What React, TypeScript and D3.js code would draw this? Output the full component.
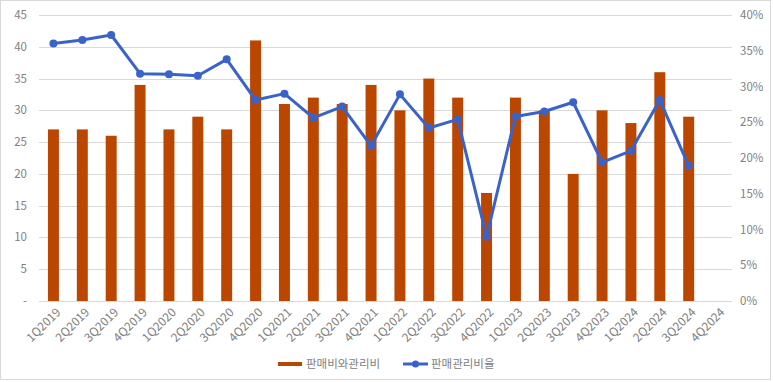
import React from "react";
import * as d3 from "d3";

const categories = ["1Q2019","2Q2019","3Q2019","4Q2019","1Q2020","2Q2020","3Q2020","4Q2020","1Q2021","2Q2021","3Q2021","4Q2021","1Q2022","2Q2022","3Q2022","4Q2022","1Q2023","2Q2023","3Q2023","4Q2023","1Q2024","2Q2024","3Q2024","4Q2024"];
const sgaExpense: (number | null)[] = [27,27,26,34,27,29,27,41,31,32,31,34,30,35,32,17,32,30,20,30,28,36,29,null];
const sgaRatio: (number | null)[] = [36.0,36.5,37.2,31.8,31.7,31.5,33.8,28.1,29.0,25.6,27.2,21.7,28.9,24.2,25.4,9.0,25.8,26.5,27.8,19.4,21.0,28.1,18.9,null];
const leftTicks = [0,5,10,15,20,25,30,35,40,45];
const rightTicks = [0,5,10,15,20,25,30,35,40];
const seriesNames = ["판매비와관리비","판매관리비율"];

const W = 773, H = 382;
const M = { left: 39, right: 732, top: 15, bottom: 301 };
const BAR_COLOR = "#BB4600";
const LINE_COLOR = "#3A63C9";
const TEXT_COLOR = "#808080";
const FONT = "'Noto Sans CJK KR', 'Noto Sans', sans-serif";

export default function App() {
  const x = d3.scaleBand().domain(categories).range([M.left, M.right]).paddingInner(0.62).paddingOuter(0.31);
  const yL = d3.scaleLinear().domain([0, 45]).range([M.bottom, M.top]);
  const yR = d3.scaleLinear().domain([0, 40]).range([M.bottom, M.top]);
  const cx = (c: string) => (x(c) as number) + x.bandwidth() / 2;

  const pts = categories.map((c, i) => ({ c, v: sgaRatio[i] })).filter(d => d.v != null) as { c: string; v: number }[];
  const line = d3.line<{ c: string; v: number }>().x(d => cx(d.c)).y(d => yR(d.v));

  return (
    <div style={{ position: "fixed", left: 0, top: 0 }}>
      <svg width={W} height={H} style={{ display: "block", fontFamily: FONT }}>
        <rect x={0} y={0} width={W} height={H} fill="#fff" />
        <rect x={0.5} y={0.5} width={770} height={379} fill="none" stroke="#d9d9d9" />
        {leftTicks.map(t => (
          <line key={"g" + t} x1={M.left} x2={M.right} y1={Math.round(yL(t)) + 0.5} y2={Math.round(yL(t)) + 0.5} stroke="#d9d9d9" strokeWidth={1} />
        ))}
        {leftTicks.map(t => (
          <text key={"l" + t} x={27} y={yL(t)} dy="0.35em" textAnchor="end" fontSize={11.5} fill={TEXT_COLOR}>{t === 0 ? "-" : t}</text>
        ))}
        {rightTicks.map(t => (
          <text key={"r" + t} x={740} y={yR(t)} dy="0.35em" textAnchor="start" fontSize={11.5} fill={TEXT_COLOR}>{t + "%"}</text>
        ))}
        {categories.map((c, i) => sgaExpense[i] == null ? null : (
          <rect key={"b" + c} x={x(c)} y={yL(sgaExpense[i] as number)} width={x.bandwidth()} height={yL(0) - yL(sgaExpense[i] as number)} fill={BAR_COLOR} />
        ))}
        <path d={line(pts) || ""} fill="none" stroke={LINE_COLOR} strokeWidth={3} strokeLinejoin="round" />
        {pts.map(d => (
          <circle key={"p" + d.c} cx={cx(d.c)} cy={yR(d.v)} r={4} fill={LINE_COLOR} />
        ))}
        {categories.map(c => (
          <text key={"x" + c} transform={`translate(${cx(c) + 5},${M.bottom + 9}) rotate(-45)`} textAnchor="end" dy="0.35em" fontSize={12} fill={TEXT_COLOR}>{c}</text>
        ))}
        <g transform="translate(0,364)">
          <line x1={278} x2={302} y1={0} y2={0} stroke={BAR_COLOR} strokeWidth={4} />
          <text x={306} y={0} dy="0.35em" fontSize={11.5} fill={TEXT_COLOR}>{seriesNames[0]}</text>
          <line x1={403} x2={428} y1={0} y2={0} stroke={LINE_COLOR} strokeWidth={3} />
          <circle cx={415.5} cy={0} r={3.5} fill={LINE_COLOR} />
          <text x={431} y={0} dy="0.35em" fontSize={11.5} fill={TEXT_COLOR}>{seriesNames[1]}</text>
        </g>
      </svg>
    </div>
  );
}
